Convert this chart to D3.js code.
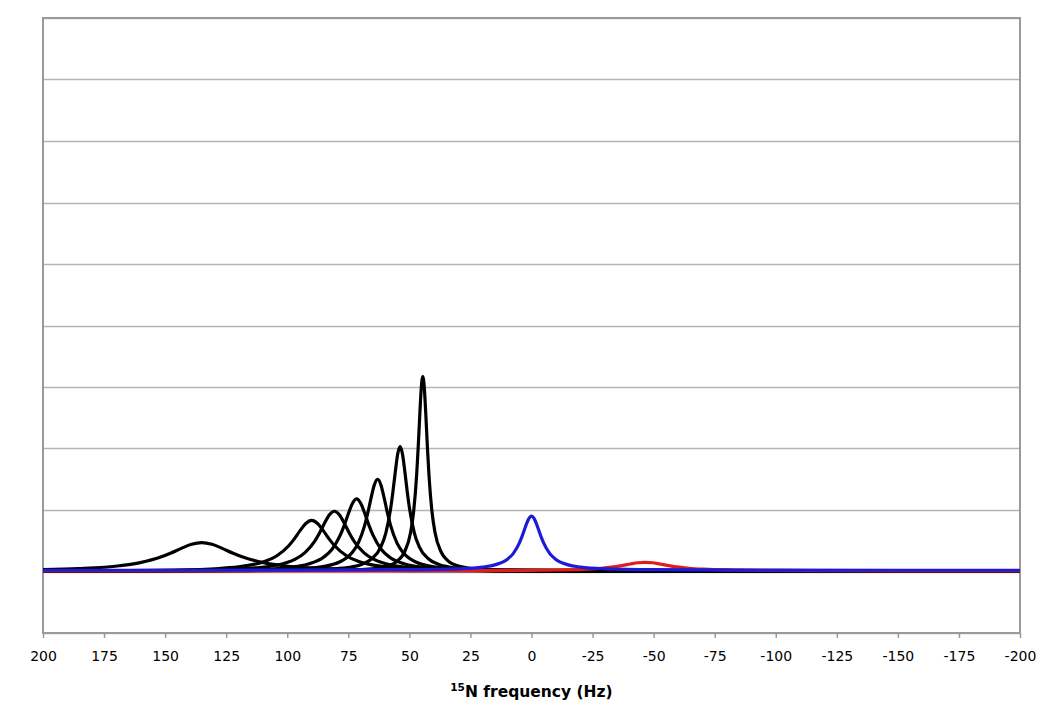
<!DOCTYPE html>
<html>
<head>
<meta charset="utf-8">
<script src="https://cdn.jsdelivr.net/npm/d3@7"></script>
<style>
  body { margin: 0; background: #fff; }
  text { font-family: Verdana, "DejaVu Sans", sans-serif; }
</style>
</head>
<body>
<svg id="chart" width="1050" height="712"></svg>
<script>
'use strict';

//x ticks, Hz (axis runs from 200 down to -200)
var xTicks = [200, 175, 150, 125, 100, 75, 50, 25, 0, -25, -50, -75, -100, -125, -150, -175, -200];
//gridline levels, no labels shown on the y axis
var yTicks = [-1, 0, 1, 2, 3, 4, 5, 6, 7, 8, 9];

//black traces, [Hz, intensity]
var peak135 = [[200, 0.029], [185.4, 0.047], [168.6, 0.094], [160.2, 0.145], [151.8, 0.235], [147.6, 0.301], [143.4, 0.376], [139.2, 0.442], [135, 0.47], [130.8, 0.442], [126.6, 0.376], [122.4, 0.301], [118.2, 0.235], [109.8, 0.145], [101.4, 0.094], [84.6, 0.047], [67.8, 0.028], [34.2, 0.013], [-33, 0.005], [-100, 0.002], [-200, 0.001]];
var peak90 = [[200, 0.006], [185, 0.008], [147, 0.022], [128, 0.049], [118.5, 0.083], [109, 0.166], [104.25, 0.256], [99.5, 0.415], [97.1, 0.531], [94.75, 0.664], [92.4, 0.781], [90, 0.83], [87.6, 0.781], [85.25, 0.664], [82.9, 0.531], [80.5, 0.415], [75.75, 0.256], [71, 0.166], [61.5, 0.083], [52, 0.049], [33, 0.022], [-5, 0.008], [-100, 0.002], [-200, 0.001]];
var peak81 = [[200, 0.005], [161.7, 0.01], [129.3, 0.026], [113.1, 0.058], [105, 0.098], [96.9, 0.196], [92.85, 0.302], [88.8, 0.49], [86.78, 0.627], [84.75, 0.784], [82.73, 0.922], [80.7, 0.98], [78.67, 0.922], [76.65, 0.784], [74.62, 0.627], [72.6, 0.49], [68.55, 0.302], [64.5, 0.196], [56.4, 0.098], [48.3, 0.058], [32.1, 0.026], [-0.3, 0.01], [-100, 0.002], [-200, 0.001]];
var peak72 = [[200, 0.003], [138.6, 0.012], [111.8, 0.032], [98.4, 0.069], [91.7, 0.118], [85, 0.236], [81.65, 0.363], [78.3, 0.59], [76.63, 0.755], [74.95, 0.944], [73.28, 1.11], [71.6, 1.18], [69.93, 1.11], [68.25, 0.944], [66.58, 0.755], [64.9, 0.59], [61.55, 0.363], [58.2, 0.236], [51.5, 0.118], [44.8, 0.069], [31.4, 0.032], [4.6, 0.012], [-100, 0.002], [-200, 0.001]];
var peak63 = [[200, 0.002], [116, 0.015], [94.8, 0.041], [84.2, 0.088], [78.9, 0.15], [73.6, 0.3], [70.95, 0.462], [68.3, 0.75], [66.98, 0.96], [65.65, 1.2], [64.33, 1.412], [63, 1.5], [61.68, 1.412], [60.35, 1.2], [59.03, 0.96], [57.7, 0.75], [55.05, 0.462], [52.4, 0.3], [47.1, 0.15], [41.8, 0.088], [31.2, 0.041], [10, 0.015], [-100, 0.002], [-200, 0.001]];
var peak54 = [[200, 0.001], [92.8, 0.02], [77.2, 0.055], [69.4, 0.119], [65.5, 0.203], [61.6, 0.406], [59.65, 0.625], [57.7, 1.015], [56.73, 1.299], [55.75, 1.624], [54.78, 1.91], [53.8, 2.03], [52.83, 1.91], [51.85, 1.624], [50.88, 1.299], [49.9, 1.015], [47.95, 0.625], [46, 0.406], [42.1, 0.203], [38.2, 0.119], [30.4, 0.055], [14.8, 0.02], [-100, 0.001], [-200, 0.001]];
var peak45 = [[200, 0.001], [69.5, 0.031], [59.5, 0.086], [54.5, 0.186], [52, 0.317], [49.5, 0.634], [48.25, 0.976], [47, 1.585], [46.38, 2.029], [45.75, 2.536], [45.13, 2.983], [44.5, 3.17], [43.88, 2.983], [43.25, 2.536], [42.63, 2.029], [42, 1.585], [40.75, 0.976], [39.5, 0.634], [37, 0.317], [34.5, 0.186], [29.5, 0.086], [19.5, 0.031], [-100, 0.001], [-200, 0]];

//red and blue traces
var redTrace = [[200, 0.01], [73.5, 0.011], [25.5, 0.014], [1.5, 0.018], [-10.5, 0.024], [-22.5, 0.038], [-28.5, 0.053], [-34.5, 0.08], [-37.5, 0.1], [-40.5, 0.122], [-43.5, 0.142], [-46.5, 0.15], [-49.5, 0.142], [-52.5, 0.122], [-55.5, 0.1], [-58.5, 0.08], [-64.5, 0.053], [-70.5, 0.038], [-82.5, 0.024], [-94.5, 0.018], [-118.5, 0.014], [-166.5, 0.011], [-200, 0.01]];
var blueTrace = [[200, 0.02], [100, 0.022], [50, 0.029], [30, 0.044], [20, 0.072], [15, 0.108], [10, 0.196], [7.5, 0.291], [5, 0.46], [3.75, 0.583], [2.5, 0.724], [1.25, 0.848], [0, 0.9], [-1.25, 0.848], [-2.5, 0.724], [-3.75, 0.583], [-5, 0.46], [-7.5, 0.291], [-10, 0.196], [-15, 0.108], [-20, 0.072], [-30, 0.044], [-50, 0.029], [-100, 0.022], [-200, 0.02]];

var blackTraces = [peak135, peak90, peak81, peak72, peak63, peak54, peak45];

var margin = {left: 43, top: 18, right: 1020, bottom: 633};

var svg = d3.select('#chart');

var x = d3.scaleLinear()
  .domain([200, -200])
  .range([margin.left, margin.right]);

var y = d3.scaleLinear()
  .domain([-1, 9])
  .range([margin.bottom, margin.top]);

//horizontal gridlines
svg.append('g')
  .attr('class', 'grid')
  .selectAll('line')
  .data(yTicks)
  .enter()
  .append('line')
  .attr('x1', margin.left)
  .attr('x2', margin.right)
  .attr('y1', function (d) { return Math.round(y(d)) + 0.5; })
  .attr('y2', function (d) { return Math.round(y(d)) + 0.5; })
  .attr('stroke', '#b4b4b4')
  .attr('stroke-width', 1.5);

//plot frame
svg.append('rect')
  .attr('x', margin.left)
  .attr('y', margin.top)
  .attr('width', margin.right - margin.left)
  .attr('height', margin.bottom - margin.top)
  .attr('fill', 'none')
  .attr('stroke', '#9a9a9a')
  .attr('stroke-width', 2);

//bottom axis
var xAxis = d3.axisBottom(x)
  .tickValues(xTicks)
  .tickSize(5)
  .tickSizeOuter(0)
  .tickPadding(13)
  .tickFormat(function (d) { return d; });

var axisG = svg.append('g')
  .attr('transform', 'translate(0,' + margin.bottom + ')')
  .call(xAxis);

axisG.select('.domain').remove();
axisG.selectAll('.tick line')
  .attr('stroke', '#9a9a9a')
  .attr('stroke-width', 1.5);
axisG.selectAll('.tick text')
  .attr('fill', '#000')
  .style('font-size', '14px')
  .style('font-family', 'Verdana, "DejaVu Sans", sans-serif');

//curves
var line = d3.line()
  .x(function (d) { return x(d[0]); })
  .y(function (d) { return y(d[1]); })
  .curve(d3.curveMonotoneX);

var sortByHz = function (arr) {
  return arr.slice().sort(function (a, b) { return a[0] - b[0]; });
};

var plot = svg.append('g').attr('class', 'traces');

blackTraces.forEach(function (trace) {
  plot.append('path')
    .attr('d', line(sortByHz(trace)))
    .attr('fill', 'none')
    .attr('stroke', '#000')
    .attr('stroke-width', 3.2)
    .attr('stroke-linejoin', 'round');
});

plot.append('path')
  .attr('d', line(sortByHz(redTrace)))
  .attr('fill', 'none')
  .attr('stroke', '#e01c1c')
  .attr('stroke-width', 3.2);

plot.append('path')
  .attr('d', line(sortByHz(blueTrace)))
  .attr('fill', 'none')
  .attr('stroke', '#1c1cd8')
  .attr('stroke-width', 3.2);

//axis title with superscript
var title = svg.append('text')
  .attr('x', (margin.left + margin.right) / 2)
  .attr('y', 697)
  .attr('text-anchor', 'middle')
  .style('font-size', '15.5px')
  .style('font-weight', 'bold');

title.append('tspan')
  .attr('dy', '-6')
  .style('font-size', '10.5px')
  .text('15');
title.append('tspan')
  .attr('dy', '6')
  .text('N frequency (Hz)');
</script>
</body>
</html>
